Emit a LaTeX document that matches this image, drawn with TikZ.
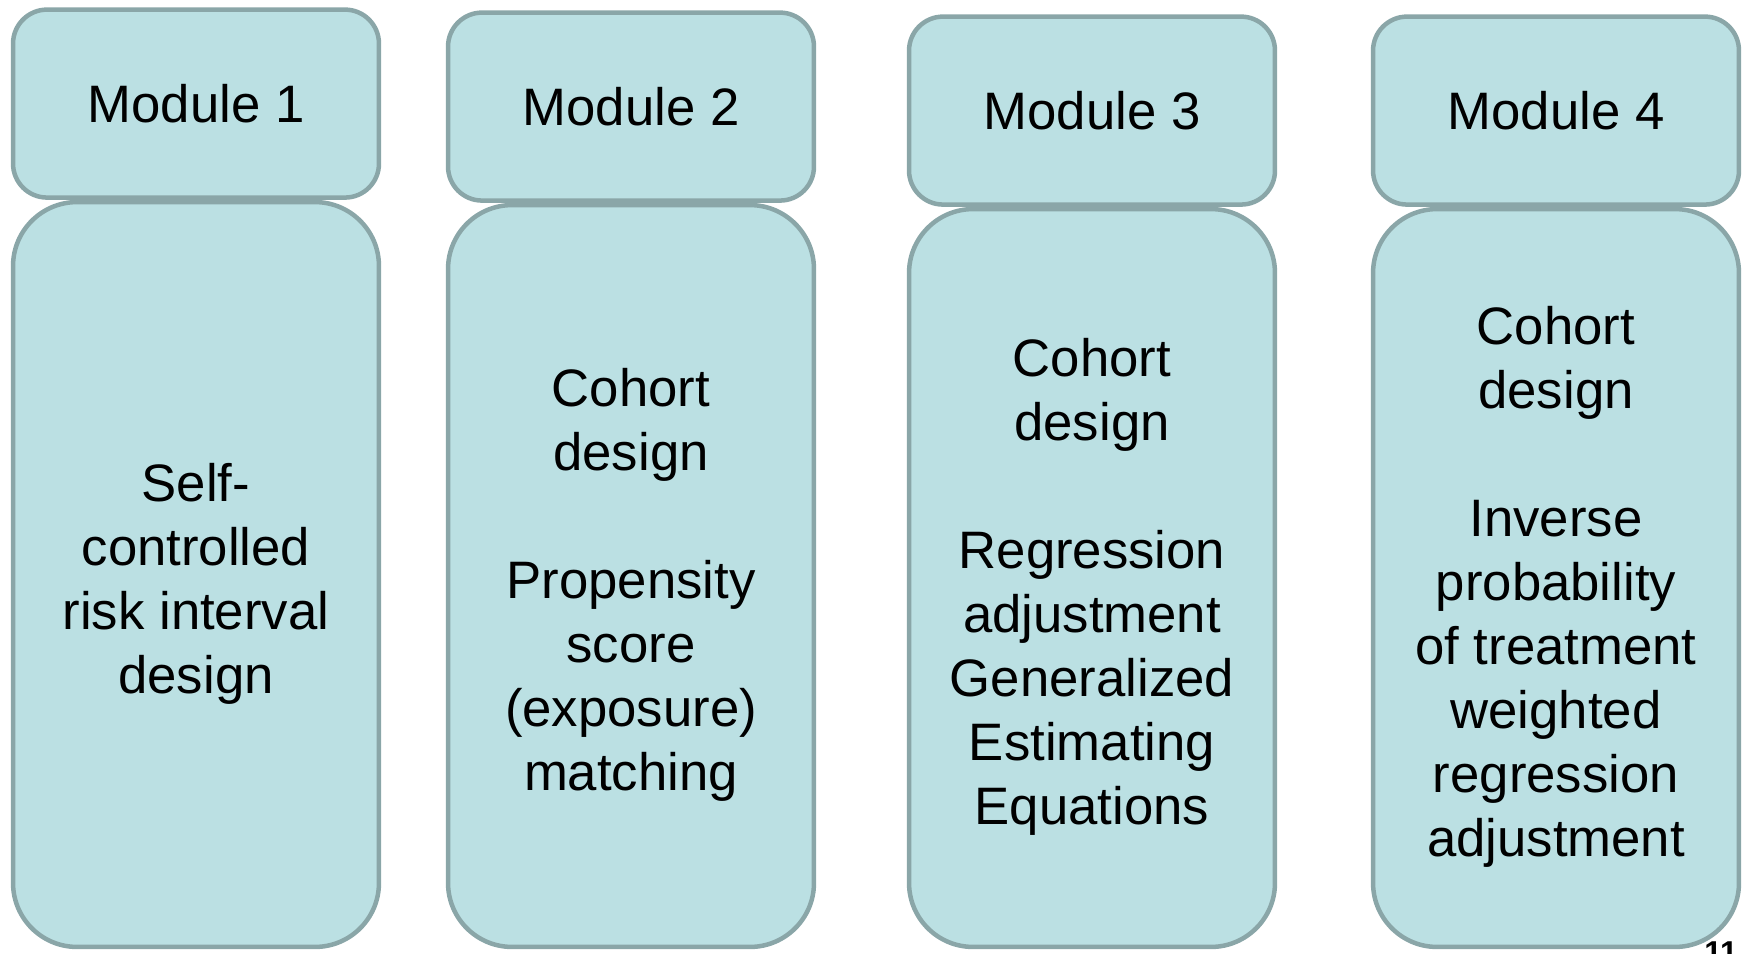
\documentclass[tikz,border=0pt]{standalone}
\usepackage{fontspec}
\setmainfont{Liberation Sans}
\usetikzlibrary{positioning}
\definecolor{boxfill}{RGB}{187,224,227}
\definecolor{boxline}{RGB}{138,166,168}
\tikzset{
  head/.style = {rectangle, draw=boxline, fill=boxfill, line width=0.09cm, rounded corners=0.68cm,
                 minimum width=7.32cm, minimum height=3.76cm, font=\fontsize{30}{36.4}\selectfont},
  body/.style = {rectangle, draw=boxline, fill=boxfill, line width=0.09cm, rounded corners=1.28cm,
                 minimum width=7.32cm},
  bodytext/.style = {align=center, inner sep=0pt, yshift=-0.18cm, font=\fontsize{30}{36.4}\selectfont}
}

\begin{document}
\begin{tikzpicture}[x=0.02cm, y=-0.02cm]
    \useasboundingbox (0,0) rectangle (1746,953);
    % slide number, mostly cut off by the page edge
    \node[anchor=base, font=\fontsize{18}{20}\selectfont\bfseries] (pgno) at (1721,963) {11};
    % design boxes
    \node[body, minimum height=14.9cm]  (b1) at (196,574.5) {};
    \node[body, minimum height=14.84cm] (b2) at (631,576) {};
    \node[body, minimum height=14.76cm] (b3) at (1092,578) {};
    \node[body, minimum height=14.76cm] (b4) at (1556,578) {};
    \node[bodytext] (t1) at (b1) {Self-\\controlled\\risk interval\\design};
    \node[bodytext] (t2) at (b2) {Cohort\\design\\[1.28cm]Propensity\\score\\(exposure)\\matching};
    \node[bodytext] (t3) at (b3) {Cohort\\design\\[1.28cm]Regression\\adjustment\\Generalized\\Estimating\\Equations};
    \node[bodytext] (t4) at (b4) {Cohort\\design\\[1.28cm]Inverse\\probability\\of treatment\\weighted\\regression\\adjustment};
    % module headers sit on top of each box
    \foreach \i in {1,...,4}
        \node[head, above=0pt of b\i] (h\i) {Module \i};
\end{tikzpicture}
\end{document}
